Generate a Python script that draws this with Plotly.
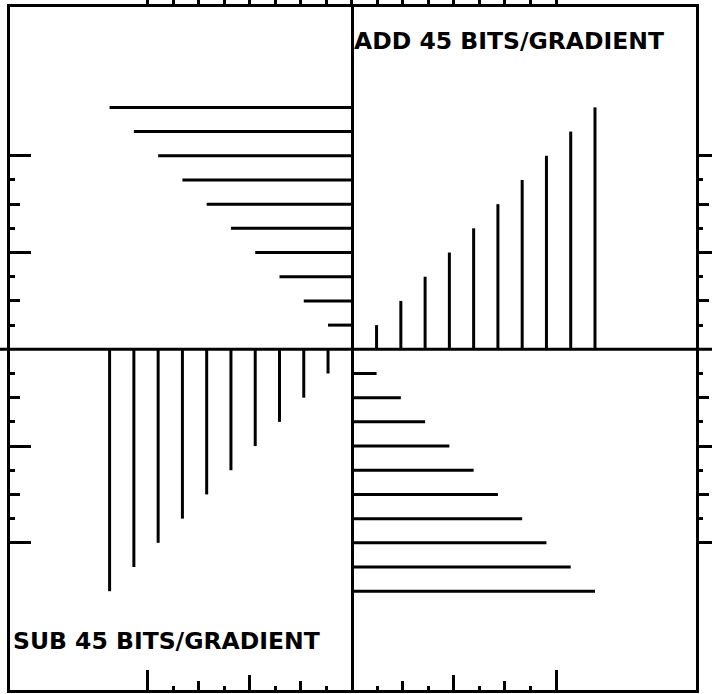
import plotly.graph_objects as go

# ---------------- data ----------------
# top-left quadrant: horizontal bars at y = pos, extending left from the centre
tl_pos = [1, 2, 3, 4, 5, 6, 7, 8, 9, 10]
tl_len = [1, 2, 3, 4, 5, 6, 7, 8, 9, 10]
# top-right quadrant: vertical bars at x = pos, extending up ("ADD")
tr_pos = [1, 2, 3, 4, 5, 6, 7, 8, 9, 10]
tr_len = [1, 2, 3, 4, 5, 6, 7, 8, 9, 10]
# bottom-left quadrant: vertical bars at x = -pos, extending down ("SUB")
bl_pos = [1, 2, 3, 4, 5, 6, 7, 8, 9, 10]
bl_len = [1, 2, 3, 4, 5, 6, 7, 8, 9, 10]
# bottom-right quadrant: horizontal bars at y = -pos, extending right
br_pos = [1, 2, 3, 4, 5, 6, 7, 8, 9, 10]
br_len = [1, 2, 3, 4, 5, 6, 7, 8, 9, 10]

# tick values
x_long_ticks = [-8, 8]
x_mid_ticks = [-4, 4]
x_quarter_ticks = [-6, -2, 2, 6]
x_odd_ticks = [-7, -5, -3, -1, 1, 3, 5, 7]
x_top_ticks = list(range(-8, 9))
y_long_ticks = [-8, -4, 4, 8]
y_quarter_ticks = [-6, -2, 2, 6]
y_odd_ticks = [-7, -5, -3, -1, 1, 3, 5, 7]

label_add = "ADD 45 BITS/GRADIENT"
label_sub = "SUB 45 BITS/GRADIENT"

# ---------------- layout constants ----------------
W, H = 712, 694
ML, MR, MT, MB = 10, 16, 7, 4
PW, PH = W - ML - MR, H - MT - MB
LW = 3
BAR_W = 3

XR = [-14.104, 14.162]   # bar units
YR = [-14.084, 14.15]
XT = [-13.395, 13.486]   # tick units (x scale)


def segs_h(pos, length, ysign, xsign):
    xs, ys = [], []
    for p, l in zip(pos, length):
        xs += [xsign * l, 0, None]
        ys += [ysign * p, ysign * p, None]
    return xs, ys


def segs_v(pos, length, xsign, ysign):
    xs, ys = [], []
    for p, l in zip(pos, length):
        xs += [xsign * p, xsign * p, None]
        ys += [0, ysign * l, None]
    return xs, ys


fig = go.Figure()
line = dict(color="black", width=BAR_W)
for xs, ys in [segs_h(tl_pos, tl_len, 1, -1),
               segs_v(tr_pos, tr_len, 1, 1),
               segs_v(bl_pos, bl_len, -1, -1),
               segs_h(br_pos, br_len, -1, 1)]:
    fig.add_trace(go.Scatter(x=xs, y=ys, mode="lines", line=line,
                             hoverinfo="skip", showlegend=False))

common = dict(showgrid=False, showticklabels=False, tickcolor="black",
              tickwidth=3, showline=True, linewidth=LW, linecolor="black",
              automargin=False)

fig.update_layout(
    width=W, height=H,
    margin=dict(l=ML, r=MR, t=MT, b=MB, pad=0, autoexpand=False),
    plot_bgcolor="white", paper_bgcolor="white",
    showlegend=False,
    xaxis=dict(range=XR, mirror=True, zeroline=True, zerolinecolor="black",
               zerolinewidth=LW, ticks="", **common),
    xaxis2=dict(range=XT, overlaying="x", side="bottom", anchor="y",
                zeroline=False, ticks="inside", tickmode="array",
                tickvals=x_long_ticks, ticklen=20,
                minor=dict(tickmode="array", tickvals=x_mid_ticks, ticklen=15,
                           ticks="inside", tickcolor="black", tickwidth=3),
                **common),
    xaxis3=dict(range=XT, overlaying="x", side="bottom", anchor="y",
                zeroline=False, ticks="inside", tickmode="array",
                tickvals=x_quarter_ticks, ticklen=9,
                minor=dict(tickmode="array", tickvals=x_odd_ticks, ticklen=4,
                           ticks="inside", tickcolor="black", tickwidth=3),
                **common),
    xaxis4=dict(range=XT, overlaying="x", side="top", anchor="y",
                zeroline=False, ticks="outside", tickmode="array",
                tickvals=x_top_ticks, ticklen=6, **common),
    yaxis=dict(range=YR, mirror=True, zeroline=False, ticks="inside",
               tickmode="array", tickvals=y_long_ticks, ticklen=21,
               minor=dict(tickmode="array", tickvals=y_quarter_ticks, ticklen=10,
                          ticks="inside", tickcolor="black", tickwidth=3),
               **common),
    yaxis2=dict(range=YR, overlaying="y", side="left", anchor="x",
                zeroline=False, ticks="inside", tickmode="array",
                tickvals=y_odd_ticks, ticklen=5, **common),
    yaxis3=dict(range=YR, overlaying="y", side="right", anchor="x",
                zeroline=False, ticks="outside", tickmode="array",
                tickvals=y_long_ticks, ticklen=20,
                minor=dict(tickmode="array", tickvals=y_quarter_ticks, ticklen=10,
                           ticks="outside", tickcolor="black", tickwidth=3),
                **common),
    yaxis4=dict(range=YR, overlaying="y", side="right", anchor="x",
                zeroline=False, ticks="outside", tickmode="array",
                tickvals=y_odd_ticks, ticklen=4, **common),
)

# dummy invisible traces so the overlay axes are drawn
for xa, ya in [("x2", "y"), ("x3", "y"), ("x4", "y"), ("x", "y2"), ("x", "y3"), ("x", "y4")]:
    fig.add_trace(go.Scatter(x=[None], y=[None], xaxis=xa, yaxis=ya,
                             mode="lines", hoverinfo="skip", showlegend=False))

# horizontal centre line running across the whole page
fig.add_shape(type="line", xref="paper", yref="y", x0=-0.05, x1=1.05, y0=0, y1=0,
              line=dict(color="black", width=LW))

font = dict(family="DejaVu Sans", size=23.5, color="black")
fig.add_annotation(text="<b>" + label_add + "</b>", xref="paper", yref="paper",
                   x=(352 - ML) / PW, y=1 - (41 - MT) / PH, xanchor="left",
                   yanchor="middle", showarrow=False, font=font)
fig.add_annotation(text="<b>" + label_sub + "</b>", xref="paper", yref="paper",
                   x=(10.5 - ML) / PW, y=1 - (641 - MT) / PH, xanchor="left",
                   yanchor="middle", showarrow=False, font=font)

fig.write_html(
    "out.html",
    config={"displayModeBar": False},
    post_script="document.body.style.margin='0px';document.body.style.padding='0px';",
)
